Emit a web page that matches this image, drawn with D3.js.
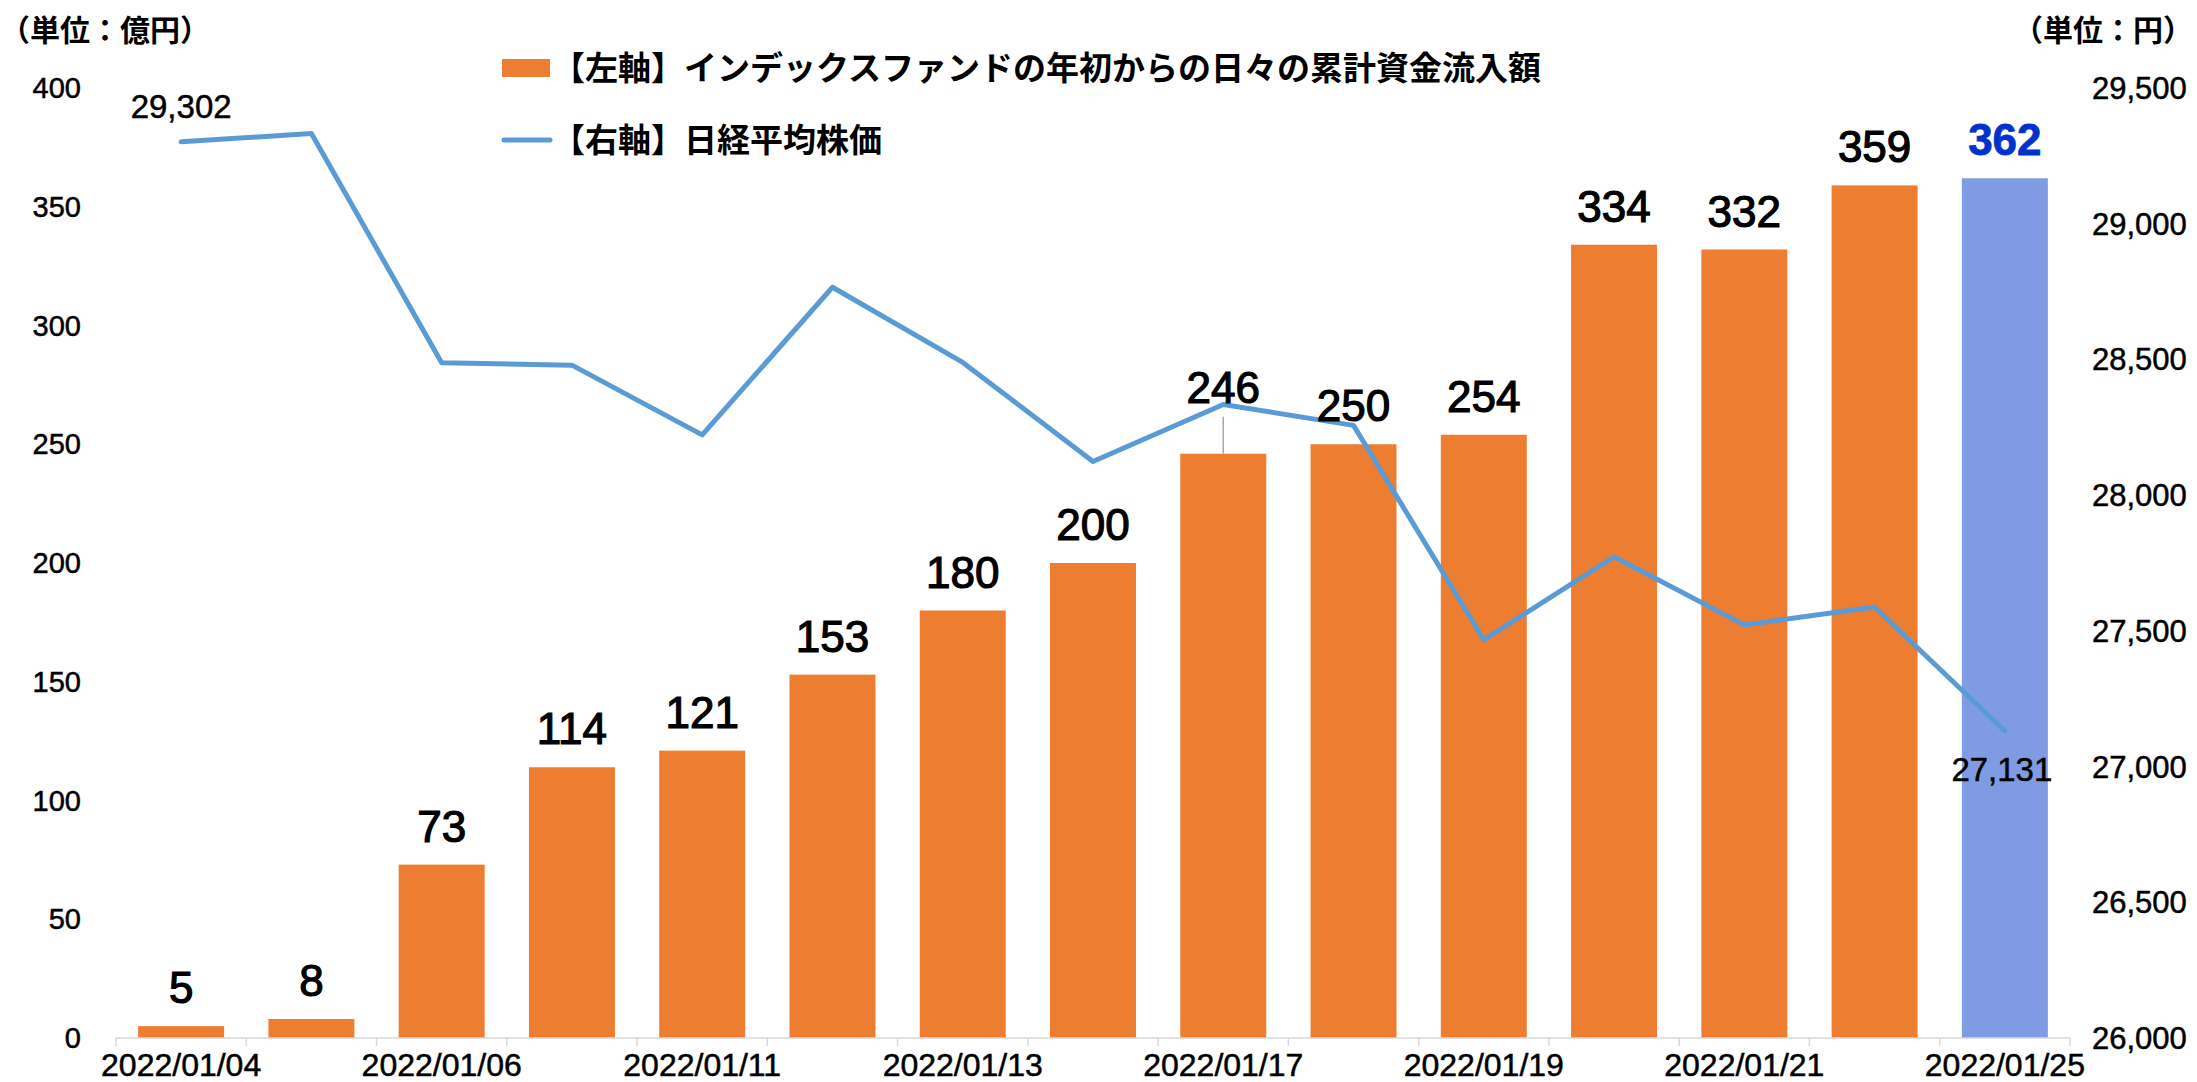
<!DOCTYPE html>
<html>
<head>
<meta charset="utf-8">
<script src="https://cdn.jsdelivr.net/npm/d3@7"></script>
<style>
    body { margin: 0; background: #fff; }
    text { font-family: "Liberation Sans", Arial, sans-serif; fill: #000; }
    .jp { font-family: "Noto Sans CJK JP", sans-serif; font-weight: bold; }
    .heavy { stroke: #000; stroke-width: 0.5px; }
</style>
</head>
<body>
<script>

// Dates on the x axis (every other one is labelled)
var dates = ["2022/01/04", "2022/01/05", "2022/01/06", "2022/01/07", "2022/01/11",
             "2022/01/12", "2022/01/13", "2022/01/14", "2022/01/17", "2022/01/18",
             "2022/01/19", "2022/01/20", "2022/01/21", "2022/01/24", "2022/01/25"];

// Cumulative inflow into index funds (億円), left axis
var inflow = [5, 8, 73, 114, 121, 153, 180, 200, 246, 250, 254, 334, 332, 359, 362];

// Nikkei average (円), right axis
var nikkei = [29302, 29332, 28488, 28479, 28222, 28766, 28489, 28124, 28334, 28257,
              27467, 27773, 27522, 27588, 27131];

var leftTicks = [0, 50, 100, 150, 200, 250, 300, 350, 400];
var rightTicks = [26000, 26500, 27000, 27500, 28000, 28500, 29000, 29500];

var legendLabels = ["【左軸】インデックスファンドの年初からの日々の累計資金流入額", "【右軸】日経平均株価"];

/*
 * Draw the combined bar + line chart
 */

var svgWidth = 2197;
var svgHeight = 1082;

var plotLeft = 116;
var plotRight = 2070;
var baseline = 1038;
var plotTop = 88;

var svg = d3.select("body").append("svg")
    .attr("width", svgWidth)
    .attr("height", svgHeight);

var xScale = d3.scaleBand()
    .domain(dates)
    .range([plotLeft, plotRight])
    .paddingInner(0.34)
    .paddingOuter(0.17);

var yLeft = d3.scaleLinear()
    .domain([0, 400])
    .range([baseline, plotTop]);

var yRight = d3.scaleLinear()
    .domain([26000, 29500])
    .range([baseline, plotTop]);

var centre = function(d) { return xScale(d) + xScale.bandwidth() / 2; };
var step = xScale.step();

// Bars
svg.selectAll(".bar")
    .data(inflow)
    .enter()
    .append("rect")
    .attr("class", "bar")
    .attr("x", function(d, i) { return xScale(dates[i]); })
    .attr("y", function(d) { return yLeft(d); })
    .attr("width", xScale.bandwidth())
    .attr("height", function(d) { return baseline - yLeft(d); })
    .attr("fill", function(d, i) { return i == inflow.length - 1 ? "#7F9CE3" : "#ED7D31"; });

// x axis line with tick marks at band edges
svg.append("line")
    .attr("x1", plotLeft).attr("x2", plotRight)
    .attr("y1", baseline).attr("y2", baseline)
    .attr("stroke", "#D9D9D9").attr("stroke-width", 1.5);

d3.range(dates.length + 1).forEach(function(k) {
    var x = plotLeft + k * step;
    svg.append("line")
        .attr("x1", x).attr("x2", x)
        .attr("y1", baseline).attr("y2", baseline + 8)
        .attr("stroke", "#D9D9D9").attr("stroke-width", 1.5);
});

// x labels, every other date
svg.selectAll(".xlabel")
    .data(dates.filter(function(d, i) { return i % 2 == 0; }))
    .enter()
    .append("text")
    .attr("class", "heavy")
    .attr("x", centre)
    .attr("y", 1076)
    .attr("text-anchor", "middle")
    .attr("font-size", 32)
    .text(function(d) { return d; });

// Left tick labels
svg.selectAll(".ltick")
    .data(leftTicks)
    .enter()
    .append("text")
    .attr("class", "heavy")
    .attr("x", 81)
    .attr("y", function(d) { return yLeft(d) + 10; })
    .attr("text-anchor", "end")
    .attr("font-size", 29)
    .text(function(d) { return d; });

// Right tick labels
svg.selectAll(".rtick")
    .data(rightTicks)
    .enter()
    .append("text")
    .attr("class", "heavy")
    .attr("x", 2092)
    .attr("y", function(d) { return yRight(d) + 11; })
    .attr("font-size", 31)
    .text(function(d) { return d3.format(",")(d); });

// Leader line for the moved 246 label
var movedIndex = 8;
svg.append("line")
    .attr("x1", centre(dates[movedIndex])).attr("x2", centre(dates[movedIndex]))
    .attr("y1", yLeft(inflow[movedIndex]))
    .attr("y2", yLeft(inflow[movedIndex]) - 37)
    .attr("stroke", "#A6A6A6").attr("stroke-width", 1.5);

// Nikkei line
var line = d3.line()
    .x(function(d, i) { return centre(dates[i]); })
    .y(function(d) { return yRight(d); });

svg.append("path")
    .datum(nikkei)
    .attr("d", line)
    .attr("fill", "none")
    .attr("stroke", "#5B9BD5")
    .attr("stroke-width", 5)
    .attr("stroke-linecap", "round")
    .attr("stroke-linejoin", "round");

// Bar value labels
var lastBar = inflow.length - 1;
svg.selectAll(".vlabel")
    .data(inflow)
    .enter()
    .append("text")
    .attr("x", function(d, i) { return centre(dates[i]); })
    .attr("y", function(d, i) { return yLeft(d) - 23 - (i == movedIndex ? 28 : 0); })
    .attr("text-anchor", "middle")
    .attr("font-size", 44)
    .attr("font-weight", function(d, i) { return i == lastBar ? "bold" : "normal"; })
    .style("fill", function(d, i) { return i == lastBar ? "#0033CC" : "#000"; })
    .style("stroke", function(d, i) { return i == lastBar ? "#0033CC" : "#000"; })
    .style("stroke-width", function(d, i) { return i == lastBar ? "0.8px" : "1.2px"; })
    .text(function(d) { return d; });

// First and last Nikkei labels
var last = nikkei.length - 1;
svg.append("text")
    .attr("class", "heavy")
    .attr("x", centre(dates[0]))
    .attr("y", yRight(nikkei[0]) - 24)
    .attr("text-anchor", "middle")
    .attr("font-size", 33)
    .text(d3.format(",")(nikkei[0]));

svg.append("text")
    .attr("class", "heavy")
    .attr("x", centre(dates[last]) - 3)
    .attr("y", yRight(nikkei[last]) + 50)
    .attr("text-anchor", "middle")
    .attr("font-size", 33)
    .text(d3.format(",")(nikkei[last]));

// Unit labels
svg.append("text")
    .attr("class", "jp")
    .attr("x", 0)
    .attr("y", 41)
    .attr("font-size", 30)
    .text("（単位：億円）");

svg.append("text")
    .attr("class", "jp")
    .attr("x", 2193)
    .attr("y", 41)
    .attr("text-anchor", "end")
    .attr("font-size", 30)
    .text("（単位：円）");

// Legend
svg.append("rect")
    .attr("x", 502).attr("y", 59)
    .attr("width", 48).attr("height", 18)
    .attr("fill", "#ED7D31");

svg.append("line")
    .attr("x1", 504).attr("x2", 550)
    .attr("y1", 140).attr("y2", 140)
    .attr("stroke", "#5B9BD5").attr("stroke-width", 5)
    .attr("stroke-linecap", "round");

svg.selectAll(".legend")
    .data(legendLabels)
    .enter()
    .append("text")
    .attr("class", "jp")
    .attr("x", 552)
    .attr("y", function(d, i) { return 80 + i * 72; })
    .attr("font-size", 33)
    .text(function(d) { return d; });

</script>
</body>
</html>
